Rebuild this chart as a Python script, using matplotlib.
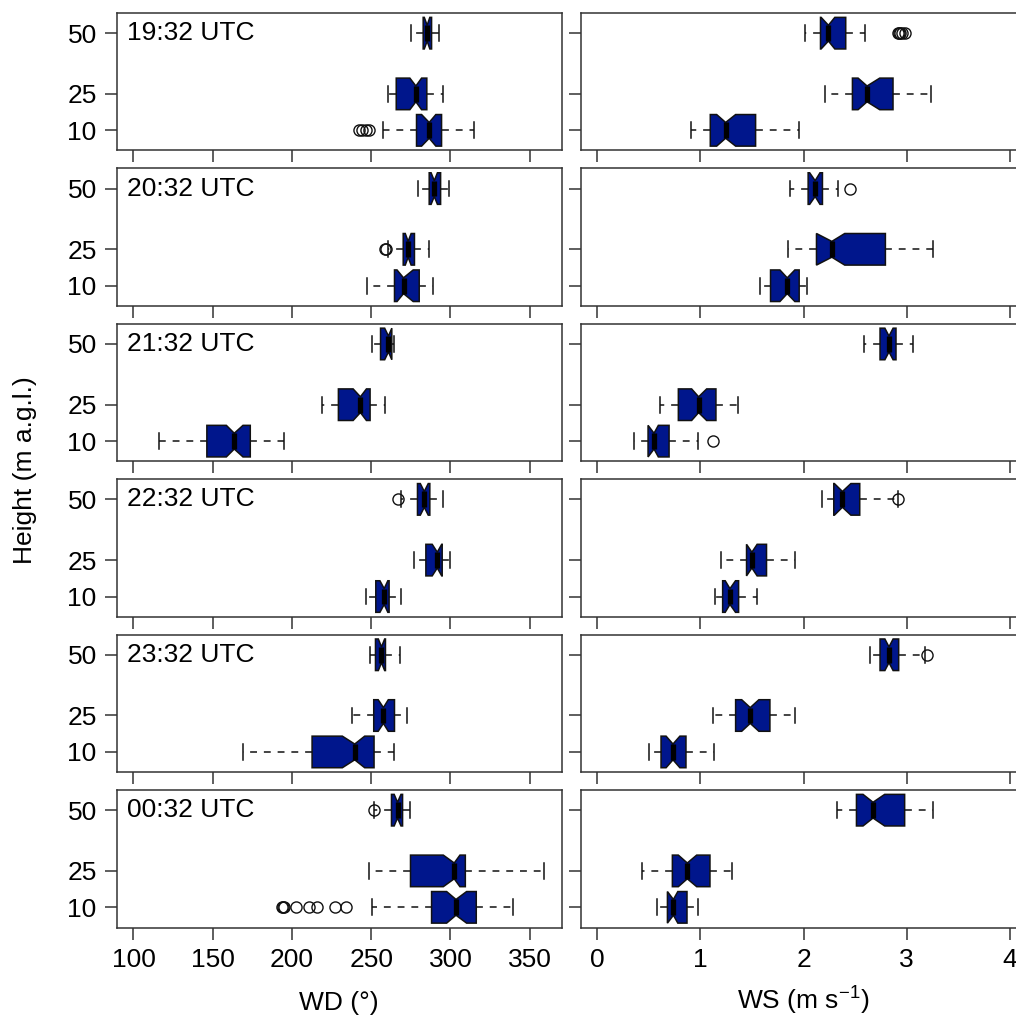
import matplotlib.pyplot as plt
import matplotlib.transforms as mtransforms

plt.rcParams['font.family'] = ['Liberation Sans', 'DejaVu Sans']
plt.rcParams['mathtext.default'] = 'regular'

times = ['19:32 UTC', '20:32 UTC', '21:32 UTC', '22:32 UTC', '23:32 UTC', '00:32 UTC']
heights = [10, 25, 50]

# wind direction (deg); each row is one time, columns are 10, 25, 50 m
wd_lo = [[257.5, 260.9, 275.4], [247.4, 260.7, 279.7], [116.4, 219.2, 250.8],
         [246.6, 276.9, 269.1], [169.1, 238.2, 249.5], [250.8, 248.7, 252.0]]
wd_q1 = [[278.6, 265.8, 282.8], [264.7, 270.2, 286.6], [146.3, 229.3, 255.9],
         [252.9, 284.5, 279.2], [212.7, 251.6, 252.7], [288.1, 274.8, 262.8]]
wd_med = [[286.6, 278.2, 285.3], [270.4, 273.3, 289.8], [163.6, 243.2, 260.9],
          [258.2, 291.7, 283.5], [239.6, 257.7, 256.5], [303.5, 302.4, 266.6]]
wd_q3 = [[294.4, 285.1, 288.1], [280.3, 277.3, 293.8], [173.7, 249.3, 263.0],
         [261.3, 294.8, 287.0], [251.8, 264.7, 259.0], [316.3, 309.4, 269.8]]
wd_hi = [[315.0, 295.5, 292.9], [289.3, 286.6, 299.2], [194.8, 259.0, 264.3],
         [268.5, 299.7, 295.0], [264.7, 272.9, 268.1], [339.3, 359.3, 274.4]]
wd_cilo = [[281.8, 274.4, 283.5], [266.3, 271.5, 287.8], [158.6, 238.6, 258.5],
           [255.5, 288.5, 281.0], [231.8, 254.4, 254.5], [297.6, 295.5, 264.5]]
wd_cihi = [[290.8, 281.8, 287.0], [276.5, 275.2, 291.8], [169.1, 247.0, 263.0],
           [260.5, 294.5, 286.0], [245.9, 260.8, 258.5], [310.2, 306.0, 268.8]]
wd_out = [[[242.0, 244.5, 246.5, 248.5], [], []],
          [[], [258.6, 259.2], []],
          [[], [], []],
          [[], [], [266.6]],
          [[], [], []],
          [[193.9, 194.4, 195.0, 202.8, 210.8, 215.8, 227.0, 233.9], [], [251.8]]]

# wind speed (m/s)
ws_lo = [[0.911, 2.213, 2.013], [1.577, 1.851, 1.868], [0.355, 0.611, 2.585],
         [1.141, 1.199, 2.184], [0.504, 1.118, 2.643], [0.582, 0.436, 2.330]]
ws_q1 = [[1.095, 2.475, 2.165], [1.680, 2.126, 2.045], [0.491, 0.785, 2.743],
         [1.215, 1.447, 2.294], [0.617, 1.341, 2.743], [0.679, 0.727, 2.514]]
ws_med = [[1.244, 2.617, 2.242], [1.842, 2.275, 2.113], [0.549, 0.982, 2.830],
          [1.286, 1.499, 2.378], [0.733, 1.483, 2.830], [0.737, 0.872, 2.675]]
ws_q3 = [[1.535, 2.869, 2.410], [1.958, 2.795, 2.184], [0.695, 1.150, 2.898],
         [1.370, 1.641, 2.546], [0.859, 1.674, 2.924], [0.869, 1.092, 2.982]]
ws_hi = [[1.955, 3.234, 2.594], [2.036, 3.257, 2.336], [0.973, 1.367, 3.066],
         [1.548, 1.919, 2.915], [1.134, 1.919, 3.180], [0.973, 1.309, 3.257]]
ws_cilo = [[1.157, 2.530, 2.171], [1.771, 2.126, 2.060], [0.491, 0.914, 2.790],
           [1.240, 1.447, 2.300], [0.666, 1.400, 2.790], [0.679, 0.785, 2.578]]
ws_cihi = [[1.341, 2.740, 2.304], [1.916, 2.400, 2.160], [0.591, 1.060, 2.870],
           [1.340, 1.550, 2.460], [0.800, 1.567, 2.870], [0.780, 0.963, 2.788]]
ws_out = [[[], [], [2.92, 2.93, 2.94, 2.96, 2.99]],
          [[], [], [2.456]],
          [[1.124], [], []],
          [[], [], [2.921]],
          [[], [], [3.202]],
          [[], [], []]]

BLUE = '#00168c'
FRAME = '#333333'
W, H = 1016, 1021
FS = 19


def box_stats(lo, q1, med, q3, hi, cilo, cihi, out, i):
    return [dict(whislo=lo[i][k], q1=q1[i][k], med=med[i][k], q3=q3[i][k],
                 whishi=hi[i][k], cilo=cilo[i][k], cihi=cihi[i][k],
                 fliers=out[i][k]) for k in range(3)]


fig = plt.figure(figsize=(W / 100, H / 100), dpi=100)

columns = [
    (117, (wd_lo, wd_q1, wd_med, wd_q3, wd_hi, wd_cilo, wd_cihi, wd_out),
     (89.6, 370.4), [100, 150, 200, 250, 300, 350]),
    (581, (ws_lo, ws_q1, ws_med, ws_q3, ws_hi, ws_cilo, ws_cihi, ws_out),
     (-0.16, 4.16), [0, 1, 2, 3, 4]),
]

for i in range(6):
    top = 13 + i * 155.4
    for j, (x0, d, xlim, xt) in enumerate(columns):
        ax = fig.add_axes([x0 / W, 1 - (top + 137.5) / H, 445 / W, 137.5 / H])
        ax.bxp(box_stats(*d, i), positions=heights, widths=13, capwidths=6.5,
               orientation='horizontal', shownotches=True, patch_artist=True,
               manage_ticks=False,
               boxprops=dict(facecolor=BLUE, edgecolor='#111111', linewidth=1.1),
               medianprops=dict(color='black', linewidth=3.8, solid_capstyle='butt'),
               whiskerprops=dict(color='#111111', linewidth=1.1, linestyle=(0, (4.5, 4.5))),
               capprops=dict(color='#111111', linewidth=1.1),
               flierprops=dict(marker='o', markerfacecolor='none',
                               markeredgecolor='#111111', markersize=8,
                               markeredgewidth=1.0))
        ax.set_xlim(*xlim)
        ax.set_ylim(1.7, 58.3)
        ax.set_yticks(heights)
        ax.set_xticks(xt)
        ax.tick_params(length=8.6, width=1.1, color=FRAME, labelsize=FS, pad=6)
        for s in ax.spines.values():
            s.set_color(FRAME)
            s.set_linewidth(1.1)
        if j == 1:
            ax.set_yticklabels([])
        else:
            tr = mtransforms.blended_transform_factory(ax.transAxes, ax.transData)
            ax.text(0.022, 50, times[i], transform=tr, va='center', ha='left', fontsize=FS)
        if i < 5:
            ax.set_xticklabels([])

fig.text(25 / W, 1 - 470 / H, 'Height (m a.g.l.)', rotation=90,
         va='center', ha='center', fontsize=FS)
fig.text(339 / W, 1 - 1003 / H, 'WD (°)', va='center', ha='center', fontsize=FS)
fig.text(803 / W, 1 - 1001 / H, 'WS (m s$^{-1}$)', va='center', ha='center', fontsize=FS)

fig.savefig('out.png', dpi=100)
